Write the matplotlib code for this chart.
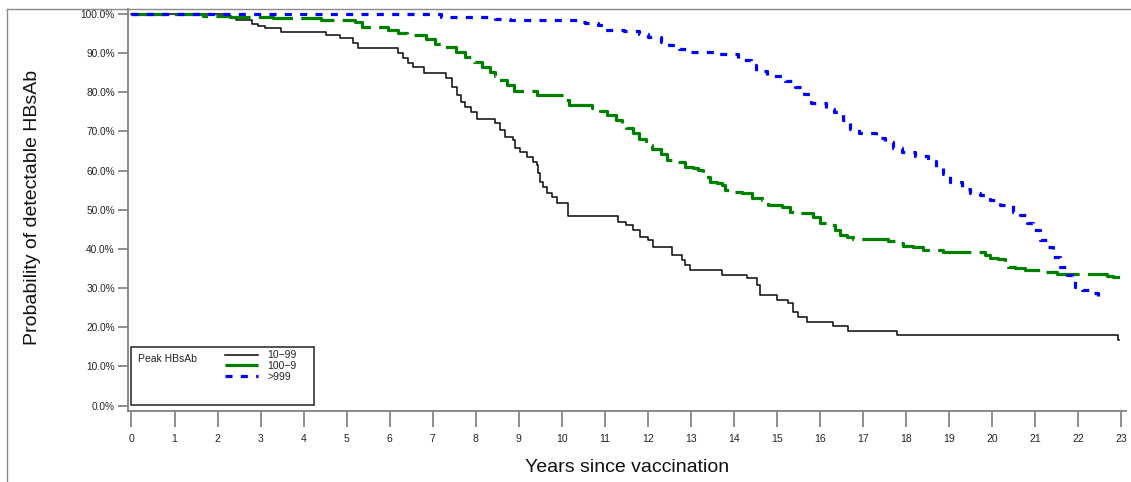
import numpy as np
import matplotlib
matplotlib.use("Agg")
import matplotlib.pyplot as plt
from matplotlib.lines import Line2D
from matplotlib.patches import Rectangle

# ---------------- data (Kaplan-Meier style step curves, % detectable) ----------------
t_low = [0, 2.18, 2.44, 2.79, 2.95, 3.1, 3.47, 4.53, 4.84, 5.15, 5.27, 6.2, 6.31, 6.42,
         6.54, 6.8, 7.3, 7.45, 7.56, 7.66, 7.75, 7.88, 8.02, 8.45, 8.56, 8.68, 8.86, 8.91,
         9.02, 9.18, 9.33, 9.42, 9.45, 9.49, 9.56, 9.65, 9.77, 9.88, 10.15, 11.3, 11.5,
         11.66, 11.82, 12.0, 12.12, 12.56, 12.79, 12.86, 12.98, 13.72, 14.3, 14.53, 14.6,
         15.0, 15.25, 15.37, 15.49, 15.69, 16.3, 16.65, 17.8, 22.93]
s_low = [100, 99.2, 98.4, 97.5, 96.8, 96.3, 95.4, 94.6, 93.7, 92.6, 91.3, 89.9, 88.6, 87.4,
         86.5, 85.0, 83.6, 81.4, 79.3, 77.6, 76.3, 75.0, 73.2, 72.0, 70.3, 68.6, 67.8, 65.7,
         64.8, 63.5, 62.2, 61.4, 59.3, 57.1, 55.8, 54.2, 53.3, 51.7, 48.5, 46.9, 46.1,
         44.8, 43.1, 42.3, 40.6, 38.4, 37.2, 35.9, 34.6, 33.4, 32.6, 30.8, 28.2,
         27.0, 26.2, 24.0, 22.7, 21.4, 20.4, 19.1, 18.0, 16.8]
end_low = 22.95

t_mid = [0, 1.66, 2.3, 3.3, 4.4, 5.2, 5.35, 5.97, 6.2, 6.4, 6.85, 7.05, 7.25, 7.55, 7.75,
         7.95, 8.14, 8.33, 8.45, 8.55, 8.72, 8.9, 9.42, 10.07, 10.17, 10.7, 10.88, 11.05,
         11.25, 11.4, 11.5, 11.65, 11.8, 11.95, 12.1, 12.3, 12.45, 12.7, 12.86, 13.05,
         13.16, 13.28, 13.44, 13.6, 13.72, 13.79, 13.98, 14.18, 14.41, 14.65, 14.79, 15.11,
         15.3, 15.53, 15.84, 16.0, 16.18, 16.35, 16.46, 16.62, 16.76, 17.58, 17.78, 17.93,
         18.16, 18.4, 18.86, 19.83, 19.95, 20.13, 20.29, 20.36, 20.53, 20.76, 21.22, 21.5,
         22.67, 22.8, 22.97]
s_mid = [100, 99.5, 99.2, 98.8, 98.4, 97.8, 96.5, 95.8, 95.2, 94.6, 93.5, 92.4, 91.6, 90.3,
         89.0, 87.8, 86.5, 85.2, 84.0, 83.1, 81.8, 80.4, 79.3, 78.0, 76.6, 75.9, 75.2, 74.2,
         73.0, 72.0, 70.8, 69.6, 68.0, 66.5, 65.5, 64.2, 62.7, 62.2, 61.0, 60.6,
         60.1, 58.4, 57.1, 56.7, 56.3, 55.0, 54.6, 54.2, 53.1, 52.4, 51.2, 50.8,
         49.5, 49.1, 48.2, 46.5, 46.1, 44.8, 43.5, 43.1, 42.4, 42.0, 41.4, 40.8,
         40.4, 39.7, 39.1, 38.4, 37.6, 37.3, 36.7, 35.5, 35.0, 34.6, 34.0, 33.5,
         33.2, 32.9, 31.9]
end_mid = 23.0

t_high = [0, 7.2, 8.45, 8.8, 10.4, 10.54, 10.83, 11.0, 11.45, 11.8, 12.0, 12.3, 12.5,
          12.72, 12.88, 13.6, 14.1, 14.4, 14.52, 14.76, 15.18, 15.43, 15.63, 15.8, 16.13,
          16.33, 16.53, 16.7, 16.9, 17.3, 17.5, 17.7, 17.9, 18.2, 18.5, 18.7, 18.85,
          19.02, 19.3, 19.48, 19.72, 19.95, 20.18, 20.48, 20.64, 20.8, 20.95, 21.11,
          21.27, 21.41, 21.57, 21.73, 21.85, 21.92, 22.08, 22.32, 22.46]
s_high = [100, 99.2, 98.6, 98.4, 98.0, 97.6, 97.0, 95.8, 95.6, 94.9, 94.0, 92.9, 92.0,
          90.9, 90.2, 89.6, 88.2, 86.8, 85.5, 84.1, 82.8, 81.4, 79.6, 77.3, 75.6,
          74.8, 72.9, 70.6, 69.5, 68.3, 67.3, 65.8, 64.6, 63.6, 62.5, 60.8, 59.0,
          57.1, 55.4, 54.2, 53.7, 52.5, 51.1, 49.5, 48.6, 46.5, 44.8, 42.3,
          40.6, 38.0, 35.5, 33.3, 32.1, 30.4, 29.5, 28.7, 27.4]
end_high = 22.5

series_labels = ["10\u221299", "100\u22129", ">999"]
legend_title = "Peak HBsAb"
x_ticks = list(range(0, 24))
y_ticks = [0, 10, 20, 30, 40, 50, 60, 70, 80, 90, 100]
x_label = "Years since vaccination"
y_label = "Probability of detectable HBsAb"

# ---------------- figure ----------------
plt.rcParams['font.family'] = ['Liberation Sans', 'DejaVu Sans']
W, H = 1131, 482
fig = plt.figure(figsize=(W / 100, H / 100), dpi=100)

ax_l, ax_r, ax_t, ax_b = 127.7, 1126.0, 8.7, 410.7
ax = fig.add_axes([ax_l / W, 1 - ax_b / H, (ax_r - ax_l) / W, (ax_b - ax_t) / H])
ax.set_xlim(-0.088, 23.11)
ax.set_ylim(-1.28, 101.28)

def stepxy(t, s, end):
    return np.append(t, end), np.append(s, s[-1])

x, y = stepxy(t_low, s_low, end_low)
ax.step(x, y, where='post', color='#111111', lw=1.15, zorder=3, label=series_labels[0])
x, y = stepxy(t_mid, s_mid, end_mid)
ax.step(x, y, where='post', color='#008000', lw=2.3, zorder=4,
        linestyle=(0, (11, 2.6)), label=series_labels[1])
x, y = stepxy(t_high, s_high, end_high)
ax.step(x, y, where='post', color='#0000ff', lw=2.3, zorder=5,
        linestyle=(0, (2.2, 2.6)), label=series_labels[2])

# axes styling
for sp in ['top', 'right']:
    ax.spines[sp].set_visible(False)
for sp in ['left', 'bottom']:
    ax.spines[sp].set_color('#808080')
    ax.spines[sp].set_linewidth(1.3)

ax.set_xticks(x_ticks)
ax.set_xticklabels([str(v) for v in x_ticks])
ax.set_yticks(y_ticks)
ax.set_yticklabels([f"{v:.1f}%" for v in y_ticks])
ax.tick_params(axis='x', direction='out', length=11.5, width=1.1, color='#707070',
               pad=5, labelsize=7.5, labelcolor='#222222')
ax.tick_params(axis='y', direction='out', length=7.2, width=1.1, color='#707070',
               pad=2, labelsize=7.3, labelcolor='#222222')

fig.text(33 / W, 1 - 207.5 / H, y_label, rotation=90, ha='center', va='center',
         fontsize=14, color='#111111')
fig.text(627 / W, 1 - 467 / H, x_label, ha='center', va='center',
         fontsize=14, color='#111111')

# figure frame lines (top and left)
fig.add_artist(Line2D([7 / W, 1.0], [1 - 8.7 / H] * 2, transform=fig.transFigure,
                      color='#8a8a8a', lw=1.0))
fig.add_artist(Line2D([7 / W] * 2, [0, 1 - 8.7 / H], transform=fig.transFigure,
                      color='#8a8a8a', lw=1.0))

# legend box
def axfx(px):
    return (px - ax_l) / (ax_r - ax_l)

def axfy(py):
    return (ax_b - py) / (ax_b - ax_t)

ax.add_patch(Rectangle((axfx(131), axfy(405)), axfx(314) - axfx(131), axfy(346.7) - axfy(405),
                       transform=ax.transAxes, fill=False, edgecolor='#222222', lw=1.1,
                       zorder=2))
ax.text(axfx(138), axfy(359), legend_title, transform=ax.transAxes, ha='left', va='center',
        fontsize=7.5, color='#222222')
leg = ax.legend(loc='upper left', bbox_to_anchor=(axfx(225), axfy(350.5)), frameon=False,
                fontsize=7.5, handlelength=3.2, handletextpad=0.85, labelspacing=0.05,
                borderpad=0, borderaxespad=0)
for txt in leg.get_texts():
    txt.set_color('#222222')

fig.savefig("out.png", dpi=100)
